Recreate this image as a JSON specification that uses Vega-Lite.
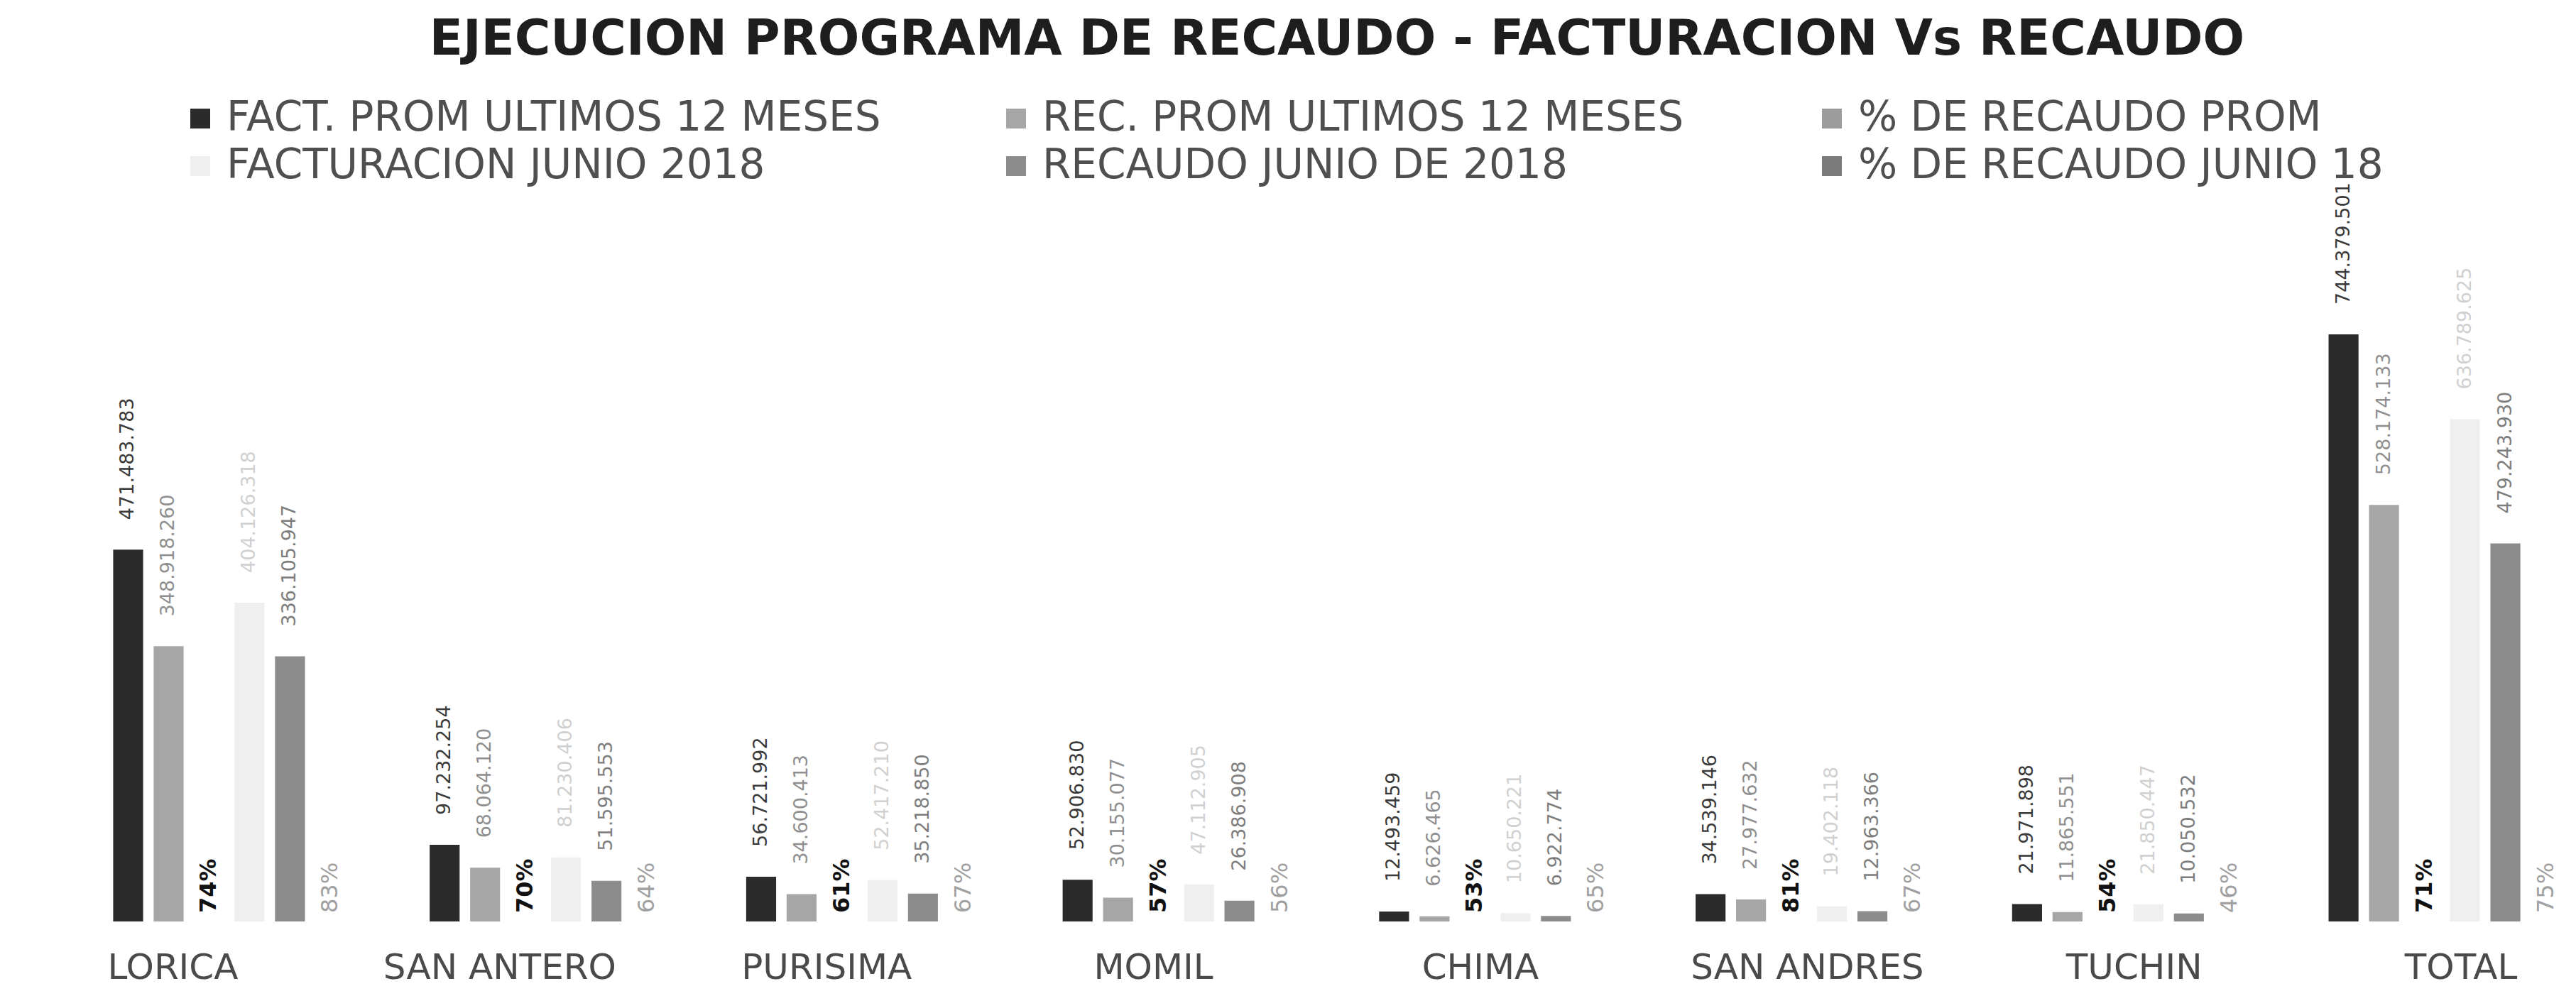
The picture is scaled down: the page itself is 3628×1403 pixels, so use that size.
{
  "$schema": "https://vega.github.io/schema/vega-lite/v6.json",
  "autosize": "none",
  "width": 3462,
  "height": 1000,
  "padding": {"left": 152, "top": 298, "right": 14, "bottom": 105},
  "background": "white",
  "title": {
    "text": "EJECUCION PROGRAMA DE RECAUDO - FACTURACION Vs RECAUDO",
    "font": "DejaVu Sans",
    "fontSize": 69,
    "fontWeight": "bold",
    "color": "#1e1e1e",
    "anchor": "middle",
    "offset": 47
  },
  "config": {"view": {"stroke": null}, "font": "DejaVu Sans"},
  "data": {
    "values": [
      {"cat": "LORICA", "serie": "FACT. PROM ULTIMOS 12 MESES", "v": 471483783, "lbl": "471.483.783"},
      {"cat": "LORICA", "serie": "REC. PROM ULTIMOS 12 MESES", "v": 348918260, "lbl": "348.918.260"},
      {"cat": "LORICA", "serie": "% DE RECAUDO PROM", "v": 0.74, "lbl": "74%"},
      {"cat": "LORICA", "serie": "FACTURACION JUNIO 2018", "v": 404126318, "lbl": "404.126.318"},
      {"cat": "LORICA", "serie": "RECAUDO JUNIO DE 2018", "v": 336105947, "lbl": "336.105.947"},
      {"cat": "LORICA", "serie": "% DE RECAUDO JUNIO 18", "v": 0.83, "lbl": "83%"},
      {"cat": "SAN ANTERO", "serie": "FACT. PROM ULTIMOS 12 MESES", "v": 97232254, "lbl": "97.232.254"},
      {"cat": "SAN ANTERO", "serie": "REC. PROM ULTIMOS 12 MESES", "v": 68064120, "lbl": "68.064.120"},
      {"cat": "SAN ANTERO", "serie": "% DE RECAUDO PROM", "v": 0.70, "lbl": "70%"},
      {"cat": "SAN ANTERO", "serie": "FACTURACION JUNIO 2018", "v": 81230406, "lbl": "81.230.406"},
      {"cat": "SAN ANTERO", "serie": "RECAUDO JUNIO DE 2018", "v": 51595553, "lbl": "51.595.553"},
      {"cat": "SAN ANTERO", "serie": "% DE RECAUDO JUNIO 18", "v": 0.64, "lbl": "64%"},
      {"cat": "PURISIMA", "serie": "FACT. PROM ULTIMOS 12 MESES", "v": 56721992, "lbl": "56.721.992"},
      {"cat": "PURISIMA", "serie": "REC. PROM ULTIMOS 12 MESES", "v": 34600413, "lbl": "34.600.413"},
      {"cat": "PURISIMA", "serie": "% DE RECAUDO PROM", "v": 0.61, "lbl": "61%"},
      {"cat": "PURISIMA", "serie": "FACTURACION JUNIO 2018", "v": 52417210, "lbl": "52.417.210"},
      {"cat": "PURISIMA", "serie": "RECAUDO JUNIO DE 2018", "v": 35218850, "lbl": "35.218.850"},
      {"cat": "PURISIMA", "serie": "% DE RECAUDO JUNIO 18", "v": 0.67, "lbl": "67%"},
      {"cat": "MOMIL", "serie": "FACT. PROM ULTIMOS 12 MESES", "v": 52906830, "lbl": "52.906.830"},
      {"cat": "MOMIL", "serie": "REC. PROM ULTIMOS 12 MESES", "v": 30155077, "lbl": "30.155.077"},
      {"cat": "MOMIL", "serie": "% DE RECAUDO PROM", "v": 0.57, "lbl": "57%"},
      {"cat": "MOMIL", "serie": "FACTURACION JUNIO 2018", "v": 47112905, "lbl": "47.112.905"},
      {"cat": "MOMIL", "serie": "RECAUDO JUNIO DE 2018", "v": 26386908, "lbl": "26.386.908"},
      {"cat": "MOMIL", "serie": "% DE RECAUDO JUNIO 18", "v": 0.56, "lbl": "56%"},
      {"cat": "CHIMA", "serie": "FACT. PROM ULTIMOS 12 MESES", "v": 12493459, "lbl": "12.493.459"},
      {"cat": "CHIMA", "serie": "REC. PROM ULTIMOS 12 MESES", "v": 6626465, "lbl": "6.626.465"},
      {"cat": "CHIMA", "serie": "% DE RECAUDO PROM", "v": 0.53, "lbl": "53%"},
      {"cat": "CHIMA", "serie": "FACTURACION JUNIO 2018", "v": 10650221, "lbl": "10.650.221"},
      {"cat": "CHIMA", "serie": "RECAUDO JUNIO DE 2018", "v": 6922774, "lbl": "6.922.774"},
      {"cat": "CHIMA", "serie": "% DE RECAUDO JUNIO 18", "v": 0.65, "lbl": "65%"},
      {"cat": "SAN ANDRES", "serie": "FACT. PROM ULTIMOS 12 MESES", "v": 34539146, "lbl": "34.539.146"},
      {"cat": "SAN ANDRES", "serie": "REC. PROM ULTIMOS 12 MESES", "v": 27977632, "lbl": "27.977.632"},
      {"cat": "SAN ANDRES", "serie": "% DE RECAUDO PROM", "v": 0.81, "lbl": "81%"},
      {"cat": "SAN ANDRES", "serie": "FACTURACION JUNIO 2018", "v": 19402118, "lbl": "19.402.118"},
      {"cat": "SAN ANDRES", "serie": "RECAUDO JUNIO DE 2018", "v": 12963366, "lbl": "12.963.366"},
      {"cat": "SAN ANDRES", "serie": "% DE RECAUDO JUNIO 18", "v": 0.67, "lbl": "67%"},
      {"cat": "TUCHIN", "serie": "FACT. PROM ULTIMOS 12 MESES", "v": 21971898, "lbl": "21.971.898"},
      {"cat": "TUCHIN", "serie": "REC. PROM ULTIMOS 12 MESES", "v": 11865551, "lbl": "11.865.551"},
      {"cat": "TUCHIN", "serie": "% DE RECAUDO PROM", "v": 0.54, "lbl": "54%"},
      {"cat": "TUCHIN", "serie": "FACTURACION JUNIO 2018", "v": 21850447, "lbl": "21.850.447"},
      {"cat": "TUCHIN", "serie": "RECAUDO JUNIO DE 2018", "v": 10050532, "lbl": "10.050.532"},
      {"cat": "TUCHIN", "serie": "% DE RECAUDO JUNIO 18", "v": 0.46, "lbl": "46%"},
      {"cat": "TOTAL", "serie": "FACT. PROM ULTIMOS 12 MESES", "v": 744379501, "lbl": "744.379.501"},
      {"cat": "TOTAL", "serie": "REC. PROM ULTIMOS 12 MESES", "v": 528174133, "lbl": "528.174.133"},
      {"cat": "TOTAL", "serie": "% DE RECAUDO PROM", "v": 0.71, "lbl": "71%"},
      {"cat": "TOTAL", "serie": "FACTURACION JUNIO 2018", "v": 636789625, "lbl": "636.789.625"},
      {"cat": "TOTAL", "serie": "RECAUDO JUNIO DE 2018", "v": 479243930, "lbl": "479.243.930"},
      {"cat": "TOTAL", "serie": "% DE RECAUDO JUNIO 18", "v": 0.75, "lbl": "75%"}
    ]
  },
  "layer": [
    {
      "encoding": {
        "x": {
          "field": "cat", "type": "nominal",
          "sort": ["LORICA", "SAN ANTERO", "PURISIMA", "MOMIL", "CHIMA", "SAN ANDRES", "TUCHIN", "TOTAL"],
          "scale": {"paddingInner": 0.233, "paddingOuter": 0},
          "axis": null
        },
        "xOffset": {
          "field": "serie", "type": "nominal",
          "sort": ["FACT. PROM ULTIMOS 12 MESES", "REC. PROM ULTIMOS 12 MESES", "% DE RECAUDO PROM", "FACTURACION JUNIO 2018", "RECAUDO JUNIO DE 2018", "% DE RECAUDO JUNIO 18"],
          "scale": {"paddingInner": 0.26, "paddingOuter": 0.13}
        },
        "y": {
          "field": "v", "type": "quantitative",
          "scale": {"domain": [0, 900000000]},
          "axis": null
        }
      },
      "layer": [
        {
          "mark": {"type": "bar"},
          "encoding": {
            "color": {
              "field": "serie", "type": "nominal",
              "scale": {
                "domain": ["FACT. PROM ULTIMOS 12 MESES", "FACTURACION JUNIO 2018", "REC. PROM ULTIMOS 12 MESES", "RECAUDO JUNIO DE 2018", "% DE RECAUDO PROM", "% DE RECAUDO JUNIO 18"],
                "range": ["#2b2b2b", "#efefef", "#a6a6a6", "#8c8c8c", "#9c9c9c", "#7a7a7a"]
              },
              "legend": {
                "title": null,
                "orient": "none",
                "legendX": 101,
                "legendY": -160,
                "columns": 3,
                "gridAlign": "all",
                "columnPadding": 161,
                "rowPadding": 9,
                "padding": 0,
                "symbolType": "square",
                "symbolSize": 784,
                "symbolStrokeWidth": 0,
                "labelFont": "DejaVu Sans",
                "labelFontSize": 58,
                "labelColor": "#4f4f4f",
                "labelLimit": 2000,
                "labelOffset": 8
              }
            }
          }
        },
        {
          "transform": [{"filter": "datum.serie !== '% DE RECAUDO PROM' && datum.serie !== '% DE RECAUDO JUNIO 18'"}],
          "mark": {"type": "text", "angle": 270, "align": "left", "baseline": "middle", "dx": 42, "fontSize": 27, "font": "DejaVu Sans"},
          "encoding": {
            "text": {"field": "lbl"},
            "color": {
              "condition": [
                {"test": "datum.serie === 'FACT. PROM ULTIMOS 12 MESES'", "value": "#3a3a3a"},
                {"test": "datum.serie === 'REC. PROM ULTIMOS 12 MESES'", "value": "#8f8f8f"},
                {"test": "datum.serie === 'FACTURACION JUNIO 2018'", "value": "#d0d0d0"}
              ],
              "value": "#7d7d7d"
            }
          }
        },
        {
          "transform": [{"filter": "datum.serie === '% DE RECAUDO PROM'"}],
          "mark": {"type": "text", "angle": 270, "align": "left", "baseline": "middle", "dx": 12, "fontSize": 32, "fontWeight": "bold", "font": "DejaVu Sans", "color": "#111111"},
          "encoding": {"text": {"field": "lbl"}}
        },
        {
          "transform": [{"filter": "datum.serie === '% DE RECAUDO JUNIO 18'"}],
          "mark": {"type": "text", "angle": 270, "align": "left", "baseline": "middle", "dx": 12, "fontSize": 32, "font": "DejaVu Sans", "color": "#a0a0a0"},
          "encoding": {"text": {"field": "lbl"}}
        }
      ]
    },
    {
      "transform": [{"filter": "datum.serie === 'FACT. PROM ULTIMOS 12 MESES'"}],
      "mark": {"type": "point", "opacity": 0},
      "encoding": {
        "x": {
          "field": "cat", "type": "nominal",
          "sort": ["LORICA", "SAN ANTERO", "PURISIMA", "MOMIL", "CHIMA", "SAN ANDRES", "TUCHIN", "TOTAL"],
          "scale": {"type": "point", "padding": 0.26, "align": 0.38},
          "axis": {
            "title": null,
            "orient": "bottom",
            "domain": false,
            "ticks": false,
            "tickSize": 0,
            "labelAngle": 0,
            "labelFont": "DejaVu Sans",
            "labelFontSize": 50,
            "labelColor": "#4a4a4a",
            "labelPadding": 40,
            "labelLimit": 1000,
            "labelOverlap": false
          }
        }
      }
    }
  ],
  "resolve": {"scale": {"x": "independent"}}
}
